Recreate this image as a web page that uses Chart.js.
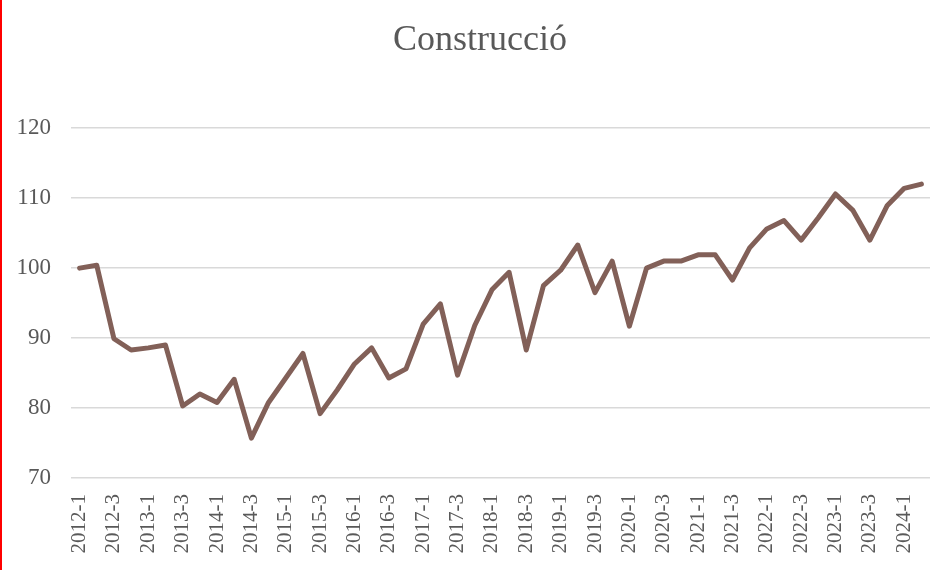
<!DOCTYPE html>
<html>
<head>
<meta charset="utf-8">
<script src="https://cdn.jsdelivr.net/npm/chart.js@4"></script>
<style>
    html, body { margin: 0; padding: 0; background: #ffffff; overflow: hidden; }
    #wrap { width: 949px; height: 570px; border-left: 2px solid #ff0000; overflow: hidden; }
</style>
</head>
<body>
<div id="wrap"><canvas id="construccio-chart" width="965" height="570"></canvas></div>
<script>
const quarters = [
    '2012-1', '2012-2', '2012-3', '2012-4', '2013-1', '2013-2', '2013-3', '2013-4',
    '2014-1', '2014-2', '2014-3', '2014-4', '2015-1', '2015-2', '2015-3', '2015-4',
    '2016-1', '2016-2', '2016-3', '2016-4', '2017-1', '2017-2', '2017-3', '2017-4',
    '2018-1', '2018-2', '2018-3', '2018-4', '2019-1', '2019-2', '2019-3', '2019-4',
    '2020-1', '2020-2', '2020-3', '2020-4', '2021-1', '2021-2', '2021-3', '2021-4',
    '2022-1', '2022-2', '2022-3', '2022-4', '2023-1', '2023-2', '2023-3', '2023-4',
    '2024-1', '2024-2'
];

const construccio = [
    100.0, 100.4, 89.9, 88.3, 88.6, 89.0, 80.3, 82.0,
    80.8, 84.1, 75.7, 80.8, 84.3, 87.8, 79.2, 82.6,
    86.3, 88.6, 84.3, 85.6, 92.0, 94.9, 84.7, 91.8,
    96.9, 99.4, 88.3, 97.5, 99.7, 103.3, 96.5, 101.0,
    91.7, 100.0, 101.0, 101.0, 101.9, 101.9, 98.3, 102.9,
    105.6, 106.8, 104.0, 107.2, 110.6, 108.3, 104.0, 108.9,
    111.4, 112.0
];

const yMin = 70;
const yMax = 120;
const yStep = 10;

const textColor = '#595959';
const fontFamily = "'Liberation Serif', 'DejaVu Serif', serif";

const ctx = document.getElementById('construccio-chart');

new Chart(ctx, {
    type: 'line',
    data: {
        labels: quarters,
        datasets: [
            {
                label: 'Construcció',
                data: construccio,
                borderColor: '#826058',
                backgroundColor: '#826058',
                borderWidth: 5,
                pointRadius: 0,
                tension: 0,
                borderJoinStyle: 'round',
                borderCapStyle: 'round',
            }
        ]
    },
    options: {
        responsive: false,
        animation: false,
        layout: {
            // canvas is wider than the frame so the title centres like the original
            padding: { left: 0, right: 9, top: 0, bottom: 0 }
        },
        plugins: {
            legend: { display: false },
            tooltip: { enabled: false },
            title: {
                display: true,
                text: 'Construcció',
                color: textColor,
                font: { family: fontFamily, size: 36, weight: 'normal' },
                padding: { top: 19, bottom: 66 }
            }
        },
        scales: {
            x: {
                offset: true,
                grid: { display: false },
                border: { display: false },
                ticks: {
                    autoSkip: false,
                    maxRotation: 90,
                    minRotation: 90,
                    padding: 8,
                    color: textColor,
                    font: { family: fontFamily, size: 21 },
                    callback: function(value, index) {
                        return index % 2 === 0 ? quarters[index] : '';
                    }
                },
                afterFit: function(scale) {
                    scale.height = 92;
                }
            },
            y: {
                min: yMin,
                max: yMax,
                grid: {
                    color: '#d9d9d9',
                    lineWidth: 1.5,
                    drawTicks: false
                },
                border: { display: false },
                ticks: {
                    stepSize: yStep,
                    padding: 20,
                    color: textColor,
                    font: { family: fontFamily, size: 23 }
                },
                afterFit: function(scale) {
                    scale.width = 69;
                }
            },
            // empty spacer on the right, keeps the plot off the right edge
            spacer: {
                type: 'linear',
                position: 'right',
                grid: { display: false },
                border: { display: false },
                ticks: { display: false },
                afterFit: function(scale) {
                    scale.width = 28;
                }
            }
        }
    }
});
</script>
</body>
</html>
